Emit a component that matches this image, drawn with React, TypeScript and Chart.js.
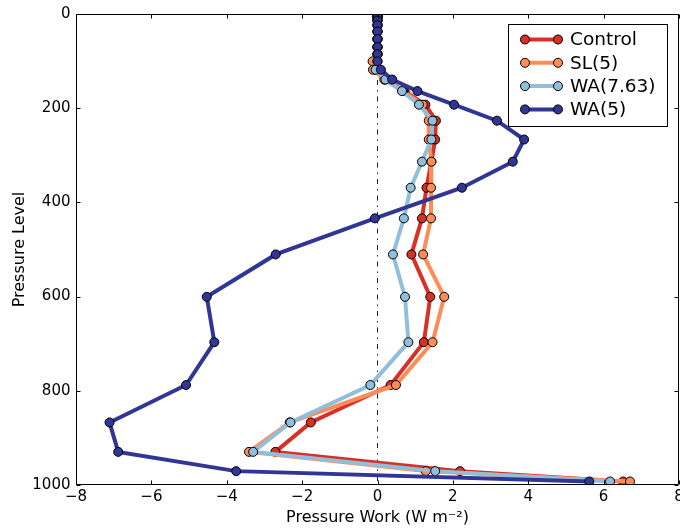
import React, { useEffect, useRef } from "react";
import { Chart, registerables } from "chart.js";

Chart.register(...registerables);

// Pressure levels (hPa)
const levels = [
  3.54, 7.39, 13.97, 23.94, 37.23, 53.11, 70.06, 85.44, 100.51, 118.25, 139.12,
  163.66, 192.54, 226.51, 266.48, 313.5, 368.82, 433.9, 510.46, 600.52, 696.8,
  787.7, 867.16, 929.65, 970.55, 992.56,
];

// Pressure work (W m^-2)
const control = [
  0, 0, 0, 0, 0, 0, 0, 0, -0.05, -0.05, 0.2, 0.72, 1.27, 1.55, 1.53, 1.43, 1.3,
  1.18, 0.9, 1.4, 1.23, 0.35, -1.77, -2.71, 2.19, 6.52,
];
const sl5 = [
  0, 0, 0, 0, 0, 0, 0, 0, -0.13, -0.12, 0.18, 0.68, 1.2, 1.36, 1.36, 1.43, 1.42,
  1.42, 1.21, 1.77, 1.46, 0.49, -2.33, -3.41, 1.28, 6.7,
];
const wa763 = [
  0, 0, 0, 0, 0, 0, 0, 0, 0, -0.05, 0.21, 0.65, 1.1, 1.46, 1.43, 1.18, 0.88,
  0.7, 0.41, 0.73, 0.82, -0.19, -2.31, -3.3, 1.53, 6.17,
];
const wa5 = [
  0, 0, 0, 0, 0, 0, 0, 0, 0, 0.09, 0.39, 1.06, 2.03, 3.17, 3.89, 3.59, 2.24,
  -0.07, -2.7, -4.53, -4.33, -5.08, -7.11, -6.88, -3.75, 5.62,
];

const seriesNames = ["Control", "SL(5)", "WA(7.63)", "WA(5)"];
const seriesValues = [control, sl5, wa763, wa5];
const seriesColors = ["#d73027", "#fc8d59", "#91bfdb", "#313695"];

const xTicks = [-8, -6, -4, -2, 0, 2, 4, 6, 8];
const yTicks = [0, 200, 400, 600, 800, 1000];
const zeroLineX = [0, 0];
const zeroLineY = [0, 1000];

const FONT = "DejaVu Sans";
const minus = (v: number) => String(v).replace("-", "\u2212");

const framePlugin = {
  id: "frameTicks",
  afterDatasetsDraw(chart: any) {
    const { ctx, chartArea: a, scales } = chart;
    ctx.save();
    ctx.strokeStyle = "#000";
    ctx.lineWidth = 1;
    ctx.beginPath();
    const L = Math.round(a.left) + 0.5;
    const R = Math.round(a.right) - 0.5;
    const T = Math.round(a.top) + 0.5;
    const B = Math.round(a.bottom) - 0.5;
    ctx.rect(L, T, R - L, B - T);
    const tl = 4;
    xTicks.forEach((v) => {
      const px = Math.round(scales.x.getPixelForValue(v)) + 0.5;
      ctx.moveTo(px, B);
      ctx.lineTo(px, B - tl);
      ctx.moveTo(px, T);
      ctx.lineTo(px, T + tl);
    });
    yTicks.forEach((v) => {
      const py = Math.round(scales.y.getPixelForValue(v)) + 0.5;
      ctx.moveTo(L, py);
      ctx.lineTo(L + tl, py);
      ctx.moveTo(R, py);
      ctx.lineTo(R - tl, py);
    });
    ctx.stroke();
    ctx.restore();
  },
};

const legendPlugin = {
  id: "boxLegend",
  afterDraw(chart: any) {
    const { ctx } = chart;
    const x0 = 508.5,
      y0 = 24.5,
      w = 159,
      h = 102;
    ctx.save();
    ctx.fillStyle = "#fff";
    ctx.fillRect(x0, y0, w, h);
    ctx.strokeStyle = "#000";
    ctx.lineWidth = 1;
    ctx.strokeRect(x0, y0, w, h);
    seriesNames.forEach((name, i) => {
      const y = 39.5 + i * 23.3;
      const xa = 525,
        xb = 558;
      ctx.strokeStyle = seriesColors[i];
      ctx.lineWidth = 4;
      ctx.beginPath();
      ctx.moveTo(xa, y);
      ctx.lineTo(xb, y);
      ctx.stroke();
      [xa, xb].forEach((cx) => {
        ctx.beginPath();
        ctx.arc(cx, y, 4.5, 0, Math.PI * 2);
        ctx.fillStyle = seriesColors[i];
        ctx.fill();
        ctx.lineWidth = 1;
        ctx.strokeStyle = "#000";
        ctx.stroke();
      });
      ctx.fillStyle = "#000";
      ctx.font = `18.5px "${FONT}"`;
      ctx.textBaseline = "middle";
      ctx.textAlign = "left";
      ctx.fillText(name, 570, y + 1);
    });
    ctx.restore();
  },
};

export default function App() {
  const ref = useRef<HTMLCanvasElement | null>(null);

  useEffect(() => {
    if (!ref.current) return;
    const datasets: any[] = seriesNames.map((name, i) => ({
      label: name,
      data: levels.map((lv, j) => ({ x: seriesValues[i][j], y: lv })),
      borderColor: seriesColors[i],
      backgroundColor: seriesColors[i],
      borderWidth: 4,
      pointRadius: 4.5,
      pointBorderWidth: 1,
      pointBorderColor: "#000",
      pointBackgroundColor: seriesColors[i],
      showLine: true,
      tension: 0,
      clip: 0,
      order: 4 - i,
    }));
    datasets.push({
      label: "zero",
      data: zeroLineX.map((x, j) => ({ x, y: zeroLineY[j] })),
      borderColor: "#222",
      borderWidth: 1,
      borderDash: [5, 5, 1.5, 5],
      pointRadius: 0,
      showLine: true,
      clip: 0,
      order: 10,
    });

    const chart = new Chart(ref.current, {
      type: "scatter",
      data: { datasets },
      plugins: [framePlugin, legendPlugin],
      options: {
        responsive: false,
        animation: false,
        layout: {
          autoPadding: false,
          padding: { left: 0, right: 1, top: 14, bottom: 0 },
        },
        plugins: { legend: { display: false }, tooltip: { enabled: false } },
        scales: {
          x: {
            type: "linear",
            min: -8,
            max: 8,
            afterBuildTicks: (s: any) => {
              s.ticks = xTicks.map((v) => ({ value: v }));
            },
            afterFit: (s: any) => {
              s.height = 44;
              s.paddingLeft = 0;
              s.paddingRight = 0;
            },
            grid: { display: false, drawTicks: false },
            border: { display: false },
            ticks: {
              padding: 3,
              color: "#000",
              font: { family: FONT, size: 15 },
              callback: (v: any) => minus(Number(v)),
              maxRotation: 0,
              autoSkip: false,
            },
            title: {
              display: true,
              text: "Pressure Work (W m\u207B\u00B2)",
              color: "#000",
              font: { family: FONT, size: 16 },
              padding: { top: 0, bottom: 2 },
            },
          },
          y: {
            type: "linear",
            min: 0,
            max: 1000,
            reverse: true,
            afterBuildTicks: (s: any) => {
              s.ticks = yTicks.map((v) => ({ value: v }));
            },
            afterFit: (s: any) => {
              s.width = 76;
              s.paddingTop = 0;
              s.paddingBottom = 0;
            },
            grid: { display: false, drawTicks: false },
            border: { display: false },
            ticks: {
              padding: 5.5,
              color: "#000",
              font: { family: FONT, size: 15 },
              callback: (v: any) => minus(Number(v)),
              autoSkip: false,
            },
            title: {
              display: true,
              text: "Pressure Level",
              color: "#000",
              font: { family: FONT, size: 16 },
              padding: { top: 10, bottom: 0 },
            },
          },
        },
      },
    });
    return () => chart.destroy();
  }, []);

  return (
    <div
      style={{
        position: "fixed",
        left: 0,
        top: 0,
        width: 680,
        height: 529,
        background: "#fff",
      }}
    >
      <canvas
        ref={ref}
        width={680}
        height={529}
        style={{ display: "block", width: 680, height: 529 }}
      />
    </div>
  );
}
